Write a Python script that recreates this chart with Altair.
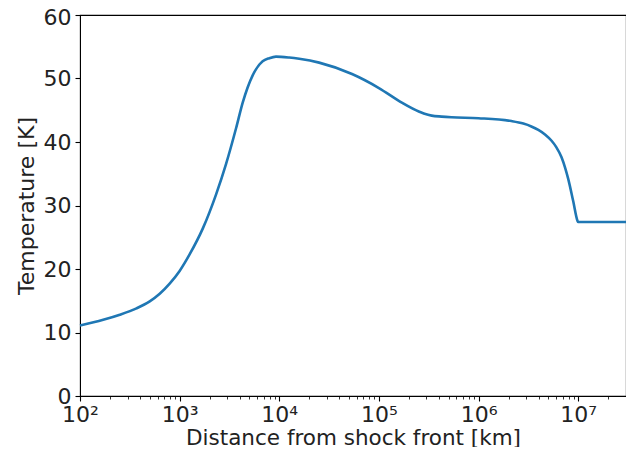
import altair as alt
import pandas as pd

distance_km = [100, 171, 251, 369, 501, 631, 794, 1000, 1259, 1710, 2328, 2931, 3690,
               4295, 5408, 6808, 7943, 9268, 12589, 15849, 25119, 53703, 100000,
               169824, 251189, 281838, 338844, 426580, 537032, 1000000, 2138000, 2818000,
               3388000, 3981000, 4677000, 5408000, 6026000, 6808000, 7413000, 7943000,
               8913000, 9840000, 10000000, 30200000]
temperature_K = [11.1, 12.0, 12.8, 13.8, 14.9, 16.1, 17.7, 19.7, 22.3, 26.4, 31.8, 36.6, 42.2,
                 46.2, 50.5, 52.7, 53.2, 53.45, 53.3, 53.1, 52.5, 50.7, 48.5,
                 46.2, 44.8, 44.5, 44.15, 44.0, 43.9, 43.75, 43.3, 42.9,
                 42.45, 41.9, 41.15, 40.2, 39.2, 37.6, 35.9, 34.2,
                 30.7, 27.6, 27.4, 27.4]

x_ticks = [m * 10 ** e for e in range(2, 8) for m in range(1, 10)]
x_ticks = [v for v in x_ticks if v <= 3e7]
y_ticks = [0, 10, 20, 30, 40, 50, 60]

df = pd.DataFrame({"d": distance_km, "T": temperature_K})

major_test = "abs(log(datum.value)/LN10 - round(log(datum.value)/LN10)) < 1e-6"
label_expr = ("(" + major_test + ") ? '10' + "
              "substring('⁰¹²³⁴⁵⁶⁷⁸⁹', round(log(datum.value)/LN10), round(log(datum.value)/LN10)+1) : ''")

font = "DejaVu Sans"
fs = 22

chart = alt.Chart(df).mark_line(color="#1f77b4", strokeWidth=2.6, interpolate="monotone").encode(
    x=alt.X("d:Q",
            scale=alt.Scale(type="log", domain=[100, 3.02e7], nice=False),
            axis=alt.Axis(values=x_ticks, labelExpr=label_expr, title="Distance from shock front [km]",
                          grid=False, domainColor="black", tickColor="black",
                          tickSize={"condition": {"test": major_test, "value": 5}, "value": 3},
                          tickWidth={"condition": {"test": major_test, "value": 1.1}, "value": 0.8},
                          labelFont=font, labelFontSize=fs, labelColor="#222222", labelPadding=3,
                          labelOverlap=False, labelFlush=False,
                          titleFont=font, titleFontSize=21.5, titleFontWeight="normal", titleColor="#222222",
                          titleBaseline="alphabetic", titleY=48)),
    y=alt.Y("T:Q",
            scale=alt.Scale(domain=[0, 60], nice=False),
            axis=alt.Axis(values=y_ticks, title="Temperature [K]", grid=False,
                          domainColor="black", tickColor="black", tickSize=5, tickWidth=1.1,
                          labelFont=font, labelFontSize=fs, labelColor="#222222", labelPadding=4,
                          labelOffset={"condition": {"test": "datum.value == 60", "value": 2}, "value": 0},
                          titleFont=font, titleFontSize=fs, titleFontWeight="normal", titleColor="#222222",
                          titlePadding=5)),
).properties(
    width=546, height=381,
    autosize=alt.AutoSizeParams(type="none"),
    padding={"left": 72, "top": 7, "right": 0, "bottom": 51},
).configure_view(stroke="black", strokeWidth=1.1)

chart.save("out.html", embed_options={"renderer": "svg", "actions": False})
